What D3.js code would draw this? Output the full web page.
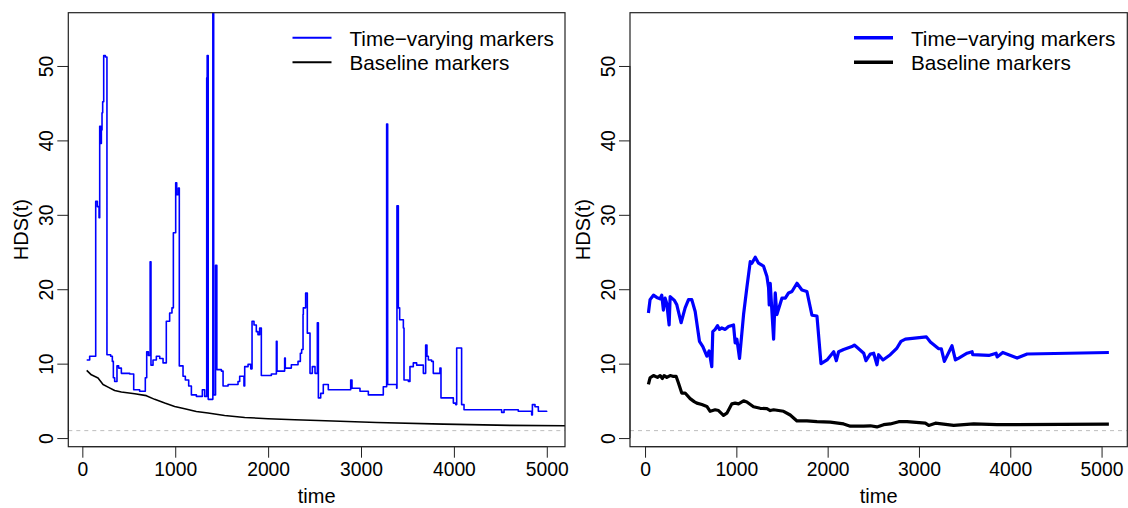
<!DOCTYPE html>
<html>
<head>
<meta charset="utf-8">
<script src="https://cdn.jsdelivr.net/npm/d3@7"></script>
<style>
  body { margin: 0; background: #fff; }
  svg { display: block; font-family: "Liberation Sans", Arial, sans-serif; }
</style>
</head>
<body>
<div id="chart"></div>
<script>
// left panel: time-varying markers (step function)
var tvLeft = [
  [47,10.5],[79,11.0],[144,31.8],[162,31.1],[180,29.6],[187,41.9],[198,39.6],[205,41.4],
  [212,43.7],[219,45.2],[230,51.4],[248,51.2],[265,11.2],[305,11.0],[323,10.3],[334,8.1],
  [348,7.6],[373,9.7],[391,9.4],[420,8.7],[510,8.6],[553,6.5],[617,6.3],[678,8.1],
  [693,11.6],[711,11.1],[730,23.7],[739,9.8],[761,10.5],[797,11.0],[833,10.7],[869,10.1],
  [904,15.7],[940,16.8],[965,17.5],[980,27.6],[1005,34.3],[1016,32.7],[1034,33.6],[1044,9.7],
  [1084,8.3],[1109,7.8],[1145,7.0],[1174,5.8],[1228,5.6],[1292,6.5],[1317,5.6],[1339,48.4],
  [1344,51.4],[1355,5.2],[1405,75],[1414,5.8],[1434,23.2],[1448,9.2],[1497,9.0],[1515,7.0],
  [1569,7.2],[1676,7.6],[1694,8.3],[1740,7.0],[1748,9.6],[1784,9.9],[1813,9.3],[1827,15.7],
  [1848,15.2],[1873,14.3],[1891,13.9],[1909,14.8],[1927,8.4],[2035,8.6],[2089,13.0],[2096,9.0],
  [2178,10.75],[2185,9.4],[2250,9.85],[2322,10.3],[2347,11.4],[2361,11.9],[2376,16.6],[2379,17.5],
  [2404,19.5],[2422,14.1],[2451,8.7],[2476,9.6],[2505,8.7],[2530,15.5],[2541,5.4],[2566,6.0],
  [2594,7.2],[2648,6.5],[2889,7.8],[2903,6.7],[2989,6.3],[3079,5.8],[3240,6.9],[3276,42.2],
  [3287,7.2],[3384,6.7],[3387,31.2],[3402,17.5],[3416,15.9],[3456,14.8],[3463,7.8],[3510,7.6],
  [3527,9.6],[3563,10.1],[3599,9.8],[3671,8.7],[3696,12.5],[3710,11.0],[3725,10.5],[3760,10.3],
  [3778,8.7],[3850,9.4],[3861,5.4],[3994,4.7],[4019,4.5],[4030,12.1],[4083,4.5],[4109,3.8],
  [4514,3.45],[4540,3.8],[4693,3.6],[4837,3.1],[4845,4.5],[4873,4.2],[4909,3.6],[4998,3.5]
];

// left panel: baseline markers
var baseLeft = [
  [47,9.1],[97,8.5],[169,8.06],[223,7.2],[277,6.85],[348,6.4],[420,6.2],[564,5.95],
  [689,5.7],[779,5.2],[887,4.7],[994,4.25],[1102,3.94],[1227,3.58],[1353,3.36],[1532,3.04],
  [1748,2.77],[1999,2.6],[2286,2.46],[2537,2.37],[3169,2.1],[3886,1.88],[4604,1.7],[5400,1.64]
];

// right panel: time-varying markers
var tvRight = [
  [37,16.8],[55,18.6],[92,19.2],[128,18.9],[165,18.7],[183,19.2],[201,17.2],[220,18.8],
  [238,18.1],[264,15.2],[275,19.0],[322,18.5],[348,17.9],[395,15.5],[439,17.5],[476,18.6],
  [512,18.6],[549,17.0],[596,13.0],[633,12.3],[677,11.0],[702,11.7],[731,9.6],[742,14.3],
  [768,14.6],[794,15.1],[816,14.6],[841,14.8],[878,14.6],[914,15.0],[969,15.2],[987,12.8],
  [1006,13.3],[1035,10.7],[1079,16.6],[1115,20.2],[1152,23.7],[1170,23.5],[1207,24.3],[1243,23.5],
  [1298,23.1],[1335,21.7],[1353,20.2],[1360,17.9],[1371,20.8],[1408,13.3],[1426,19.5],[1444,16.6],
  [1499,18.8],[1536,18.8],[1572,19.5],[1609,19.7],[1664,20.8],[1718,19.9],[1773,19.7],[1828,16.5],
  [1883,16.4],[1927,10.0],[1993,10.5],[2066,11.6],[2095,10.4],[2120,11.6],[2175,11.9],[2266,12.3],
  [2292,12.5],[2321,12.2],[2395,11.4],[2420,10.4],[2468,11.3],[2504,11.4],[2540,9.85],[2558,11.2],
  [2606,10.5],[2686,11.2],[2759,12.1],[2803,13.0],[2851,13.3],[3081,13.6],[3125,12.9],[3216,12.0],
  [3245,12.0],[3278,10.3],[3362,12.4],[3399,10.5],[3436,10.75],[3527,11.4],[3582,11.6],[3589,11.2],
  [3765,11.1],[3845,11.4],[3856,10.9],[3918,11.5],[4075,10.75],[4185,11.3],[5080,11.5]
];

// right panel: baseline markers
var baseRight = [
  [37,7.2],[55,8.1],[92,8.4],[136,8.15],[165,8.4],[190,8.0],[209,8.4],[238,8.15],
  [275,8.4],[304,8.3],[340,8.3],[366,7.4],[402,6.05],[439,6.05],[494,5.3],[538,4.9],
  [567,4.7],[622,4.5],[677,4.25],[713,3.6],[768,3.8],[805,3.7],[859,3.05],[896,3.35],
  [951,4.6],[987,4.7],[1024,4.6],[1079,5.0],[1115,4.85],[1188,4.2],[1261,4.0],[1335,3.95],
  [1371,3.7],[1408,3.8],[1517,3.6],[1590,3.1],[1664,2.3],[1773,2.3],[1883,2.2],[2029,2.15],
  [2175,1.9],[2248,1.6],[2394,1.6],[2467,1.65],[2540,1.5],[2613,1.8],[2686,1.9],[2778,2.2],
  [2869,2.2],[3070,2.0],[3107,1.7],[3180,2.0],[3381,1.7],[3600,1.9],[3856,1.8],[5080,1.88]
];

var xTicks = [0, 1000, 2000, 3000, 4000, 5000];
var yTicks = [0, 10, 20, 30, 40, 50];
var yLim = [1, 55];
var refLine = 1;
var legendLabels = ["Time\u2212varying markers", "Baseline markers"];

var W = 1128, H = 508;
var plotTop = 12.7, plotBottom = 446.7;

var svg = d3.select("#chart").append("svg")
    .attr("width", W)
    .attr("height", H);

// R style axis range: data range padded by 4% on each side
function pad(lim) {
  var r = lim[1] - lim[0];
  return [lim[0] - 0.04 * r, lim[1] + 0.04 * r];
}

function drawPanel(id, left, right, tv, base, stepped, lw, legendX) {
  var xLim = d3.extent(tv.concat(base).filter(function(d) { return d[0] <= 5100; }), function(d) { return d[0]; });
  var x = d3.scaleLinear().domain(pad(xLim)).range([left, right]);
  var y = d3.scaleLinear().domain(pad(yLim)).range([plotBottom, plotTop]);

  var g = svg.append("g");

  g.append("clipPath").attr("id", id)
    .append("rect")
    .attr("x", left).attr("y", plotTop)
    .attr("width", right - left).attr("height", plotBottom - plotTop);

  var plot = g.append("g").attr("clip-path", "url(#" + id + ")");

  plot.append("line")
      .attr("x1", left).attr("x2", right)
      .attr("y1", y(refLine)).attr("y2", y(refLine))
      .attr("stroke", "#bdbdbd")
      .attr("stroke-width", 1)
      .attr("stroke-dasharray", "4,4");

  var tvLine = d3.line()
      .x(function(d) { return x(d[0]); })
      .y(function(d) { return y(d[1]); })
      .curve(stepped ? d3.curveStepAfter : d3.curveLinear);
  var baseLine = d3.line()
      .x(function(d) { return x(d[0]); })
      .y(function(d) { return y(d[1]); });

  plot.append("path")
      .attr("d", baseLine(base))
      .attr("fill", "none")
      .attr("stroke", "#000")
      .attr("stroke-width", lw)
      .attr("stroke-linejoin", "round");
  plot.append("path")
      .attr("d", tvLine(tv))
      .attr("fill", "none")
      .attr("stroke", "#0000ff")
      .attr("stroke-width", lw)
      .attr("stroke-linejoin", "round");

  // box
  g.append("rect")
      .attr("x", left).attr("y", plotTop)
      .attr("width", right - left).attr("height", plotBottom - plotTop)
      .attr("fill", "none")
      .attr("stroke", "#222")
      .attr("stroke-width", 1.2);

  // x axis
  var xAxis = d3.axisBottom(x).tickValues(xTicks).tickSize(11).tickPadding(5).tickFormat(d3.format("d"));
  var xg = g.append("g").attr("transform", "translate(0," + plotBottom + ")").call(xAxis);
  xg.select(".domain").attr("d", "M" + x(xTicks[0]) + ",0H" + x(xTicks[xTicks.length - 1])).attr("stroke", "#222");
  xg.selectAll(".tick line").attr("stroke", "#222");
  xg.selectAll("text").attr("font-size", 19.3).attr("fill", "#000")
    .attr("font-family", "Liberation Sans, Arial, sans-serif");

  // y axis with rotated labels
  var yAxis = d3.axisLeft(y).tickValues(yTicks).tickSize(11).tickFormat(d3.format("d"));
  var yg = g.append("g").attr("transform", "translate(" + left + ",0)").call(yAxis);
  yg.select(".domain").attr("d", "M0," + y(yTicks[0]) + "V" + y(yTicks[yTicks.length - 1])).attr("stroke", "#222");
  yg.selectAll(".tick line").attr("stroke", "#222");
  yg.selectAll(".tick text")
      .attr("x", null).attr("dy", null)
      .attr("text-anchor", "middle")
      .attr("font-size", 19.3).attr("fill", "#000")
      .attr("font-family", "Liberation Sans, Arial, sans-serif")
      .attr("transform", "translate(-15,0) rotate(-90)");

  // axis titles
  g.append("text")
      .attr("x", (left + right) / 2).attr("y", 503)
      .attr("text-anchor", "middle")
      .attr("font-size", 20)
      .text("time");
  g.append("text")
      .attr("transform", "translate(" + (left - 40) + "," + ((plotTop + plotBottom) / 2) + ") rotate(-90)")
      .attr("text-anchor", "middle")
      .attr("font-size", 20)
      .text("HDS(t)");

  // legend
  var colors = ["#0000ff", "#000"];
  var leg = g.append("g");
  legendLabels.forEach(function(lab, i) {
    var ly = 37.7 + i * 24.6;
    leg.append("line")
        .attr("x1", legendX).attr("x2", legendX + 39)
        .attr("y1", ly).attr("y2", ly)
        .attr("stroke", colors[i])
        .attr("stroke-width", lw + 0.4);
    leg.append("text")
        .attr("x", legendX + 57).attr("y", ly + 7.8)
        .attr("font-size", 20.7)
        .text(lab);
  });
}

drawPanel("clipL", 68.3, 565, tvLeft, baseLeft, true, 1.6, 292.5);
drawPanel("clipR", 630, 1127.3, tvRight, baseRight, false, 3.2, 854);
</script>
</body>
</html>
